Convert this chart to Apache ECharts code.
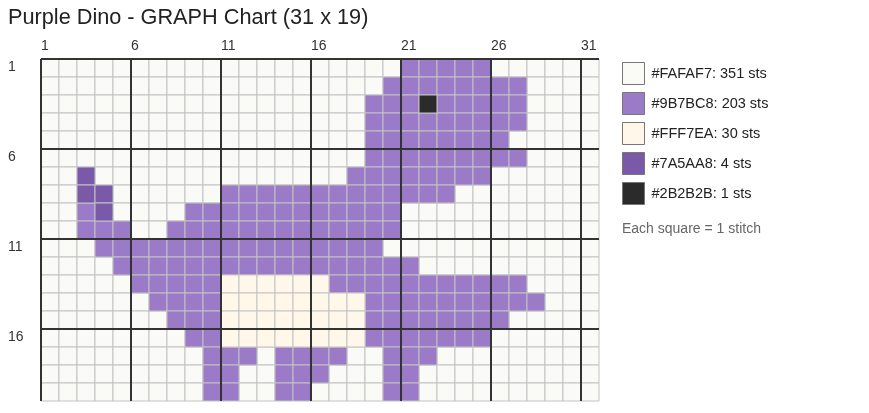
<!DOCTYPE html>
<html>
<head>
<meta charset="utf-8">
<script src="https://cdn.jsdelivr.net/npm/echarts@6/dist/echarts.min.js"></script>
<style>
  html, body { margin: 0; padding: 0; background: #ffffff; }
  #chart { width: 869px; height: 413px; }
</style>
</head>
<body>
<div id="chart"></div>
<script>
// ---- data ----
const chartTitle = 'Purple Dino - GRAPH Chart (31 x 19)';
const noteText = 'Each square = 1 stitch';
const nCols = 31;
const nRows = 19;
// color codes used in the pattern rows
const colorCodes = ['.', 'p', 'c', 'd', 'k'];
const colorHex = ['#FAFAF7', '#9B7BC8', '#FFF7EA', '#7A5AA8', '#2B2B2B'];
// pattern rows (groups of 5 columns separated by spaces)
const patternRows = [
  '..... ..... ..... ..... ppppp ..... .',
  '..... ..... ..... ....p ppppp pp... .',
  '..... ..... ..... ...pp pkppp pp... .',
  '..... ..... ..... ...pp ppppp pp... .',
  '..... ..... ..... ...pp ppppp p.... .',
  '..... ..... ..... ...pp ppppp pp... .',
  '..d.. ..... ..... ..ppp ppppp ..... .',
  '..dd. ..... ppppp ppppp ppp.. ..... .',
  '..pd. ...pp ppppp ppppp ..... ..... .',
  '..ppp ..ppp ppppp ppppp ..... ..... .',
  '...pp ppppp ppppp pppp. ..... ..... .',
  '....p ppppp ppppp ppppp p.... ..... .',
  '..... ppppp ccccc cpppp ppppp pp... .',
  '..... .pppp ccccc cccpp ppppp ppp.. .',
  '..... ..ppp ccccc cccpp ppppp p.... .',
  '..... ...pp ccccc cccpp ppppp ..... .',
  '..... ....p pp.pp pp..p pp... ..... .',
  '..... ....p p..pp p...p p.... ..... .',
  '..... ....p p..pp ....p p.... ..... .'
];
// major (heavy) grid line positions, every 5 cells
const majorX = [0, 5, 10, 15, 20, 25, 30];
const majorY = [0, 5, 10, 15];

// ---- build ----
const FONT = '"Liberation Sans", Arial, Helvetica, sans-serif';
const cellsByColor = colorCodes.map(() => []);
patternRows.forEach((row, r) => {
  const s = row.replace(/ /g, '');
  for (let c = 0; c < s.length; c++) {
    const idx = colorCodes.indexOf(s[c]);
    cellsByColor[idx].push([c, r]);
  }
});
const seriesNames = colorHex.map((h, i) => h + ': ' + cellsByColor[i].length + ' sts');

function renderCell(params, api) {
  const x = api.value(0), y = api.value(1);
  const p0 = api.coord([x, y]);
  const p1 = api.coord([x + 1, y + 1]);
  return {
    type: 'rect',
    shape: {
      x: Math.min(p0[0], p1[0]), y: Math.min(p0[1], p1[1]),
      width: Math.abs(p1[0] - p0[0]), height: Math.abs(p1[1] - p0[1])
    },
    style: { fill: api.visual('color'), stroke: '#c3c3c3', lineWidth: 1 }
  };
}
function renderVMajor(params, api) {
  const v = api.value(0);
  const a = api.coord([v, 0]), b = api.coord([v, nRows]);
  return { type: 'line', shape: { x1: a[0], y1: a[1], x2: b[0], y2: b[1] },
           style: { stroke: '#333333', lineWidth: 2 } };
}
function renderHMajor(params, api) {
  const v = api.value(1);
  const a = api.coord([0, v]), b = api.coord([nCols, v]);
  return { type: 'line', shape: { x1: a[0], y1: a[1], x2: b[0], y2: b[1] },
           style: { stroke: '#333333', lineWidth: 2 } };
}

const series = colorHex.map((hex, i) => ({
  type: 'custom',
  name: seriesNames[i],
  renderItem: renderCell,
  itemStyle: { color: hex },
  encode: { x: 0, y: 1 },
  data: cellsByColor[i],
  z: 2,
  silent: true
}));
series.push({
  type: 'custom', name: 'vmajor', renderItem: renderVMajor,
  encode: { x: 0, y: 1 }, data: majorX.map(v => [v, 0]), z: 5, silent: true
});
series.push({
  type: 'custom', name: 'hmajor', renderItem: renderHMajor,
  encode: { x: 0, y: 1 }, data: majorY.map(v => [0, v]), z: 5, silent: true
});

const chart = echarts.init(document.getElementById('chart'), null, { renderer: 'canvas' });
chart.setOption({
  backgroundColor: '#ffffff',
  animation: false,
  textStyle: { fontFamily: FONT },
  title: [
    { text: chartTitle, left: 8, top: 7, padding: 0,
      textStyle: { fontSize: 21.7, fontWeight: 'normal', color: '#222222', fontFamily: FONT } },
    { text: noteText, left: 622, top: 222, padding: 0,
      textStyle: { fontSize: 14, fontWeight: 'normal', color: '#666666', fontFamily: FONT } }
  ],
  legend: {
    orient: 'vertical', left: 622, top: 62, padding: 0,
    itemWidth: 22, itemHeight: 22, itemGap: 7, icon: 'rect',
    selectedMode: false, data: seriesNames,
    itemStyle: { borderColor: '#777777', borderWidth: 1 },
    textStyle: { fontSize: 14.5, color: '#222222', fontFamily: FONT, padding: [0, 0, 0, 2] }
  },
  grid: { left: 41, top: 59, width: 558, height: 342, containLabel: false },
  xAxis: {
    type: 'value', min: 0, max: nCols, interval: 5, position: 'top',
    axisLine: { show: false }, axisTick: { show: false }, splitLine: { show: false },
    axisLabel: {
      margin: 6, align: 'left', fontSize: 14, color: '#333333', fontFamily: FONT,
      formatter: v => (v % 5 === 0 && v < nCols) ? String(v + 1) : ''
    }
  },
  yAxis: {
    type: 'value', min: 0, max: nRows, interval: 5, inverse: true,
    axisLine: { show: false }, axisTick: { show: false }, splitLine: { show: false },
    axisLabel: {
      margin: 33, align: 'left', verticalAlign: 'top', padding: [1, 0, 0, 0],
      fontSize: 14, color: '#333333', fontFamily: FONT,
      formatter: v => (v % 5 === 0 && v < nRows) ? String(v + 1) : ''
    }
  },
  series: series
});
</script>
</body>
</html>
